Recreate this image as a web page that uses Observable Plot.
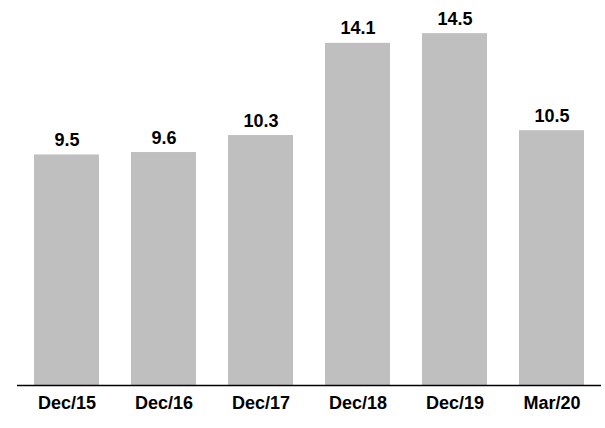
<!DOCTYPE html>
<html>
<head>
<meta charset="utf-8">
<script src="https://cdn.jsdelivr.net/npm/d3@7"></script>
<script src="https://cdn.jsdelivr.net/npm/@observablehq/plot@0.6"></script>
<style>
  html, body { margin: 0; padding: 0; background: #fff; }
</style>
</head>
<body>
<div id="chart"></div>
<script>
const categories = ["Dec/15", "Dec/16", "Dec/17", "Dec/18", "Dec/19", "Mar/20"];
const values = [9.5, 9.6, 10.3, 14.1, 14.5, 10.5];
const valueLabels = ["9.5", "9.6", "10.3", "14.1", "14.5", "10.5"];

const data = categories.map((c, i) => ({cat: c, value: values[i], label: valueLabels[i]}));

const chart = Plot.plot({
  width: 605,
  height: 428,
  marginLeft: 17,
  marginRight: 4,
  marginTop: 21,
  marginBottom: 43,
  style: {fontFamily: "'Liberation Sans', Arial, sans-serif", fontWeight: "bold", fontSize: "18px", color: "#000", background: "#fff"},
  x: {domain: categories, paddingInner: 0.333, paddingOuter: 0.167, label: null},
  y: {domain: [0, 15], axis: null},
  marks: [
    Plot.barY(data, {x: "cat", y: "value", fill: "#bfbfbf"}),
    Plot.text(data, {x: "cat", y: "value", text: "label", lineAnchor: "bottom", dy: -9, fontSize: 18, fontWeight: "bold", fill: "#000"}),
    Plot.ruleY([0], {stroke: "#000", strokeWidth: 1.5}),
    Plot.axisX({tickSize: 0, tickPadding: 11, fontSize: 18, fontWeight: "bold", label: null})
  ]
});
document.getElementById("chart").appendChild(chart);
</script>
</body>
</html>
